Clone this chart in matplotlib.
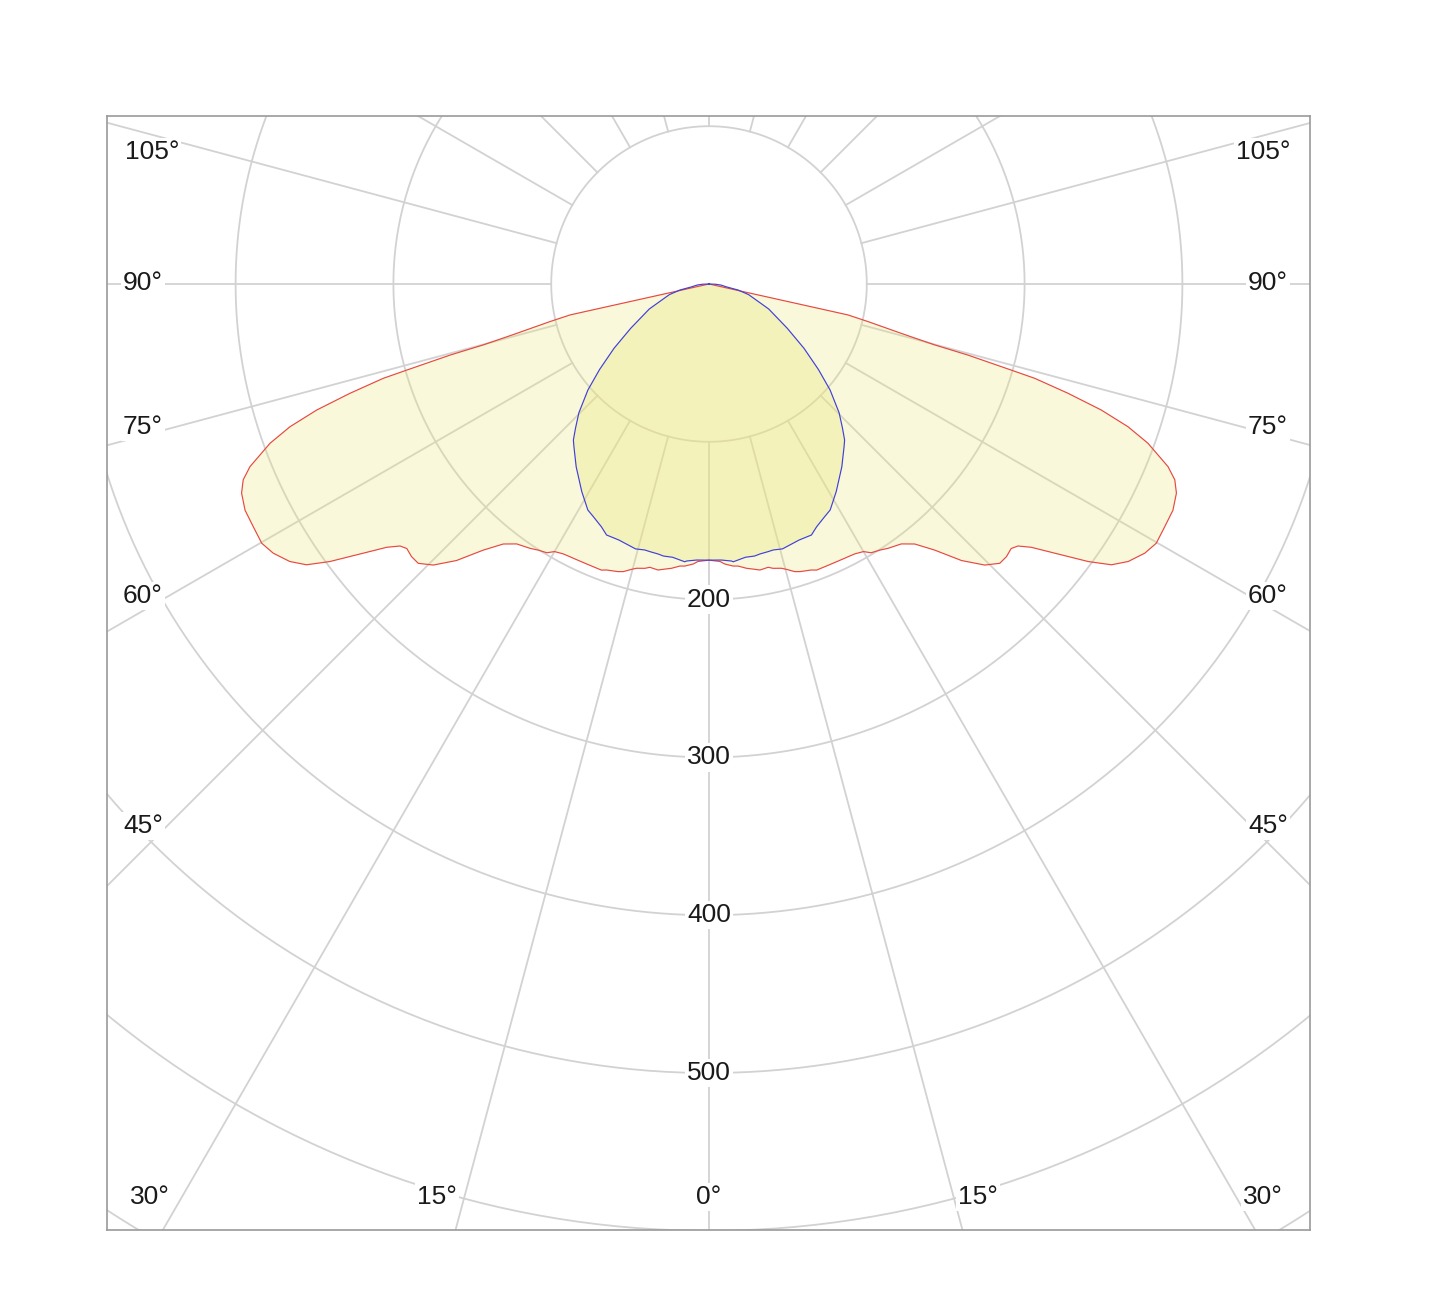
import numpy as np
import matplotlib
matplotlib.use("Agg")
import matplotlib.pyplot as plt

# luminous intensity (cd) vs gamma angle (deg)
# C0/C180 plane (red), symmetric about nadir
red_gamma = [0, 2.3, 3.2, 4.9, 5.9, 7.5, 9.1, 10.1, 11.8, 12.7, 14.3, 15.2, 16.6,
             17.6, 19.7, 20.6, 23.1, 26.3, 27.0, 28.4, 30.0, 31.1, 32.7, 34.1,
             36.5, 38.35, 40.3, 42.4, 44.45, 46.15, 47.5, 48.8, 49.7, 50.75,
             52.1, 53.8, 55.1, 56.5, 58.3, 59.9, 62.0, 64.0, 65.9, 67.2, 68.3,
             69.1, 70.06, 71.19, 72.19, 73.07, 73.85, 74.1, 74.65, 74.9, 75.6,
             76.7, 77.45, 90]
red_cd = [175, 176, 177.7, 179.4, 179.7, 181.7, 183.1, 184.1, 183.4, 184.7, 185.9,
          187.4, 190.2, 191.2, 192.5, 193.7, 193.6, 193.9, 194.0, 194.4, 195.8,
          198.9, 200.4, 202.3, 204.9, 210.1, 221.1, 237.3, 249.5, 255.5, 255.7,
          254.5, 256.7, 263.7, 277.7, 297.8, 311.0, 318.6, 324.6, 327.6, 327.2,
          327.1, 324.5, 320.2, 313.1, 305.0, 295.9, 280.5, 261.1, 237.8, 214.9,
          199.2, 170.2, 148.2, 125.8, 103.6, 90.2, 0]

# C90/C270 plane (blue)
blue_gamma = [0, 2.55, 4.6, 5.0, 7.6, 9.5, 10.7, 12.4, 13.6, 15.5, 19.4, 22.2,
              23.9, 26.4, 28.2, 31.5, 36.0, 39.7, 41.0, 42.8, 45.3, 48.8, 52.0,
              55.9, 60.5, 67.3, 75.0, 78.3, 80.5, 85.0, 88.0, 90]
blue_cd = [175, 175.1, 176.1, 176.7, 174.7, 174.8, 174.1, 173.7, 173.4, 174.2,
           172.0, 171.8, 168.3, 164.7, 162.5, 154.3, 143.2, 134.0, 131.0, 124.5,
           116.0, 102.0, 88.0, 72.7, 57.0, 41.0, 26.0, 18.8, 11.5, 7.5, 4.0, 0]

ring_values = [100, 200, 300, 400, 500, 600, 700]
ring_labels = [200, 300, 400, 500]
side_ticks = [105, 90, 75, 60, 45]
bottom_ticks = [30, 15, 0, 15, 30]

W, H = 1445, 1312
L, T, R, B = 107, 116, 1310, 1230
cx, cy, scale = 709, 284, 1.578

fig = plt.figure(figsize=(W / 100, H / 100), dpi=100)
ax = fig.add_axes([L / W, 1 - B / H, (R - L) / W, (B - T) / H])
ax.set_xlim((L - cx) / scale, (R - cx) / scale)
ax.set_ylim((cy - B) / scale, (cy - T) / scale)
ax.set_xticks([])
ax.set_yticks([])
for sp in ax.spines.values():
    sp.set_color("#9a9a9a")
    sp.set_linewidth(1.2)

grid_kw = dict(color="#d2d2d2", lw=1.3, zorder=1)
t = np.linspace(0, 2 * np.pi, 600)
for r in ring_values:
    ax.plot(r * np.cos(t), r * np.sin(t), **grid_kw)
for a in np.arange(0, 360, 15):
    g = np.radians(a)
    ax.plot([100 * np.sin(g), 900 * np.sin(g)], [-100 * np.cos(g), -900 * np.cos(g)], **grid_kw)


def outline(gam, cd):
    g = np.radians(np.array(gam))
    i = np.array(cd)
    # left half from 90 down to 0, then right half from 0 up to 90
    xl, yl = -i[::-1] * np.sin(g[::-1]), -i[::-1] * np.cos(g[::-1])
    xr, yr = i[1:] * np.sin(g[1:]), -i[1:] * np.cos(g[1:])
    return np.concatenate([xl, xr]), np.concatenate([yl, yr])


fill_col = "#ece67a"
xr_, yr_ = outline(red_gamma, red_cd)
xb_, yb_ = outline(blue_gamma, blue_cd)
ax.fill(xr_, yr_, color=fill_col, alpha=0.27, lw=0, zorder=2)
ax.fill(xb_, yb_, color=fill_col, alpha=0.32, lw=0, zorder=2)
ax.plot(xr_, yr_, color="#e8483f", lw=0.85, zorder=3)
ax.plot(xb_, yb_, color="#4040d8", lw=0.85, zorder=3)

txt_kw = dict(fontsize=19, family="Liberation Sans", color="#1a1a1a",
              ha="center", va="center", zorder=5,
              bbox=dict(facecolor="white", edgecolor="none", pad=1.5))

for v in ring_labels:
    ax.text(0, -v, str(v), **txt_kw)


def at(px, py):
    return (px - L) / (R - L), (B - py) / (B - T)


left_pos = [(152, 152), (143, 283), (143, 427), (143, 596), (143, 826)]
right_pos = [(1263, 152), (1268, 283), (1268, 427), (1268, 596), (1268, 826)]
bottom_pos = [(150, 1197), (437, 1197), (709, 1197), (978, 1197), (1263, 1197)]

for v, (px, py) in zip(side_ticks, left_pos):
    ax.text(*at(px, py), f"{v}°", transform=ax.transAxes, **txt_kw)
for v, (px, py) in zip(side_ticks, right_pos):
    ax.text(*at(px, py), f"{v}°", transform=ax.transAxes, **txt_kw)
for v, (px, py) in zip(bottom_ticks, bottom_pos):
    ax.text(*at(px, py), f"{v}°", transform=ax.transAxes, **txt_kw)

fig.savefig("out.png", dpi=100, facecolor="white")
